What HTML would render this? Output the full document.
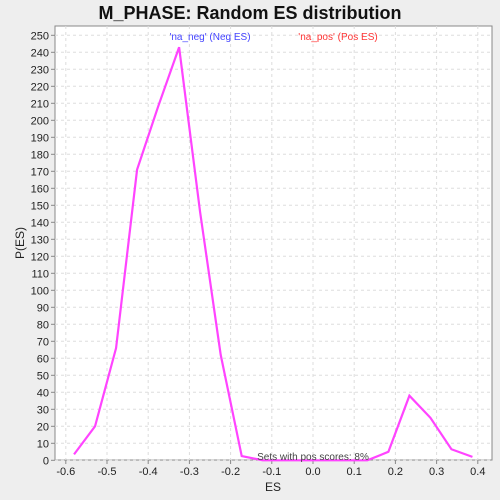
<!DOCTYPE html>
<html><head><meta charset="utf-8"><style>
body{margin:0;background:#eeeeee;}
svg{display:block;font-family:"Liberation Sans",sans-serif;}
</style></head><body>
<svg id="chart" width="500" height="500">
<rect width="500" height="500" fill="#eeeeee"/>
<text x="250" y="19" text-anchor="middle" font-size="18" font-weight="bold" fill="#111">M_PHASE: Random ES distribution</text>
<rect x="55" y="26" width="437" height="434" fill="#fff" stroke="#888"/>
<g id="grid"></g>
<g id="yaxis"></g>
<g id="xaxis"></g>
<text x="24" y="243" transform="rotate(-90 24 243)" text-anchor="middle" font-size="12" fill="#222">P(ES)</text>
<text x="273" y="491" text-anchor="middle" font-size="12" fill="#222">ES</text>
<text x="210" y="40" text-anchor="middle" font-size="10" fill="#4444ff">'na_neg' (Neg ES)</text>
<text x="338" y="40" text-anchor="middle" font-size="10" fill="#ff3333">'na_pos' (Pos ES)</text>
<g id="series"></g>
<text x="313" y="460" text-anchor="middle" font-size="10" fill="#444">Sets with pos scores: 8%</text>
</svg>
<script>
const esValues=[-0.58,-0.529,-0.478,-0.427,-0.376,-0.325,-0.274,-0.224,-0.173,-0.122,-0.071,-0.02,0.031,0.082,0.132,0.183,0.234,0.285,0.336,0.387];
const probValues=[3.5,20,66,171,208,243,146,62,2.5,0,0,0,0,0,0,5,38,25,6.5,2];
const xTicks=[-0.6,-0.5,-0.4,-0.3,-0.2,-0.1,0.0,0.1,0.2,0.3,0.4];
const yTicks=[0,10,20,30,40,50,60,70,80,90,100,110,120,130,140,150,160,170,180,190,200,210,220,230,240,250];
const NS="http://www.w3.org/2000/svg";
function xs(v){return 313+v*412;}
function ys(v){return 460.3-v*1.7;}
function mk(t,a,p){const e=document.createElementNS(NS,t);for(const k in a)e.setAttribute(k,a[k]);p.appendChild(e);return e;}
const grid=document.getElementById('grid'),ya=document.getElementById('yaxis'),xa=document.getElementById('xaxis');
yTicks.forEach(v=>{const y=ys(v);
 const g=mk('line',{x1:55,x2:492,y1:y,y2:y,stroke:'#ddd','stroke-dasharray':'3,3'},grid);
 
 
 mk('line',{x1:51,x2:55,y1:y,y2:y,stroke:'#888'},ya);
 const t=mk('text',{x:49,y:y+4,'text-anchor':'end','font-size':11,fill:'#222'},ya);t.textContent=v;
 
 
});
xTicks.forEach(v=>{const x=xs(v);
 const g=mk('line',{x1:x,x2:x,y1:26,y2:460,stroke:'#ddd','stroke-dasharray':'3,3'},grid);
 
 
 mk('line',{x1:x,x2:x,y1:460,y2:464,stroke:'#888'},xa);
 const t=mk('text',{x:x,y:475,'text-anchor':'middle','font-size':11,fill:'#222'},xa);t.textContent=v.toFixed(1);
 
 
});
const pts=esValues.map((v,i)=>xs(v)+','+ys(probValues[i])).join(' ');
const line=mk('polyline',{points:pts,fill:'none',stroke:'#ff44ff','stroke-width':2.2},document.getElementById('series'));


</script>
</body></html>
